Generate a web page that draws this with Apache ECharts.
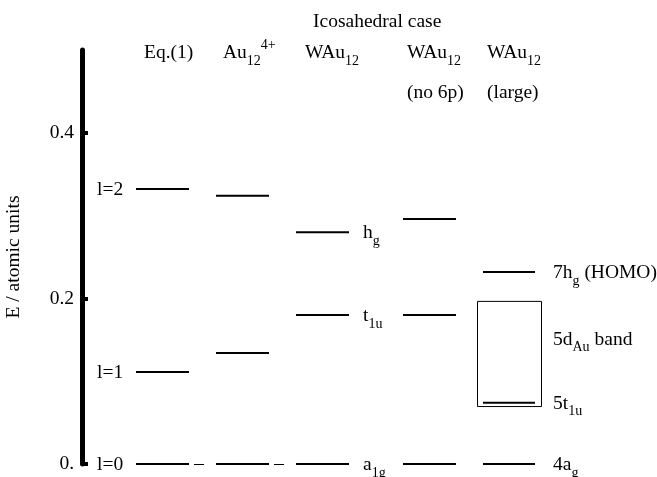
<!DOCTYPE html>
<html><head><meta charset="utf-8">
<script src="https://cdn.jsdelivr.net/npm/echarts@6/dist/echarts.min.js"></script>
<style>html,body{margin:0;padding:0;background:#fff}#c{width:657px;height:477px}</style>
</head><body><div id="c"></div>
<script>
// ---- data ----
const groupTitle = 'Icosahedral case';
const columnHeaders = ['{b|Eq.(1)}', '{b|Au}{s|12}{p|4+}', '{b|WAu}{s|12}', '{b|WAu}{s|12}', '{b|WAu}{s|12}'];
const columnNotes = ['', '', '', '(no 6p)', '(large)'];
const eq1Levels = [0, 0.111, 0.332];
const au12Levels = [0, 0.134, 0.324];
const wau12Levels = [0, 0.180, 0.280];
const wau12No6pLevels = [0, 0.180, 0.296];
const wau12LargeLevels = [0, 0.074, 0.232];
const largeBand5d = [0.070, 0.197];
const eqLevelLabels = ['{b|l=0}', '{b|l=1}', '{b|l=2}'];
const wau12LevelLabels = ['{b|a}{s|1g}', '{b|t}{s|1u}', '{b|h}{s|g}'];
const largeLevelLabels = ['{b|4a}{s|g}', '{b|5t}{s|1u}', '{b|7h}{s|g}{b| (HOMO)}'];
const bandLabel = '{b|5d}{s|Au}{b| band}';
const yTickValues = [0, 0.2, 0.4];
const yTickLabels = ['0.', '0.2', '0.4'];
const yAxisTitle = 'E / atomic units';

// ---- layout (pixel offsets from the axis) ----
const F = 'Liberation Serif';
const FS = 19.5;
const colSpans = [[54, 107], [134, 187], [214, 267], [321, 374], [401, 453]];
const headerX = [144, 223, 305, 407, 487];
const bandSpan = [395, 459];
const dashSpans = [[112, 122], [192, 202]];
const rich = {
  b: {fontFamily: F, fontSize: FS, lineHeight: 30, fill: '#000', verticalAlign: 'middle'},
  s: {fontFamily: F, fontSize: 14, lineHeight: 17, fill: '#000', verticalAlign: 'bottom'},
  p: {fontFamily: F, fontSize: 14, lineHeight: 22, fill: '#000', verticalAlign: 'top'}
};

function levelSeries(levels, span, labels, labelOffset) {
  return {
    type: 'custom', coordinateSystem: 'cartesian2d', clip: false, silent: true,
    data: levels.map(v => [span[0], v]),
    encode: {x: 0, y: 1},
    renderItem: (params, api) => {
      const v = api.value(1);
      const p0 = api.coord([span[0], v]);
      const p1 = api.coord([span[1], v]);
      const children = [{type: 'line', shape: {x1: p0[0], y1: p0[1], x2: p1[0], y2: p1[1]},
        style: {stroke: '#000', lineWidth: 2}}];
      if (labels) {
        const lx = api.coord([labelOffset, v])[0];
        children.push({type: 'text', style: {text: labels[params.dataIndex], x: lx, y: p0[1] + 1,
          align: 'left', verticalAlign: 'middle', rich: rich, font: FS + 'px ' + F}});
      }
      return {type: 'group', children};
    }
  };
}

const series = [
  levelSeries(eq1Levels, colSpans[0], eqLevelLabels, 15),
  levelSeries(au12Levels, colSpans[1]),
  levelSeries(wau12Levels, colSpans[2], wau12LevelLabels, 281),
  levelSeries(wau12No6pLevels, colSpans[3]),
  levelSeries(wau12LargeLevels, colSpans[4], largeLevelLabels, 471),
  {
    type: 'custom', coordinateSystem: 'cartesian2d', clip: false, silent: true,
    data: [largeBand5d],
    renderItem: (params, api) => {
      const lo = api.value(0), hi = api.value(1);
      const a = api.coord([bandSpan[0], hi]);
      const b = api.coord([bandSpan[1], lo]);
      return {type: 'group', children: [
        {type: 'rect', shape: {x: a[0] + 0.5, y: a[1] + 0.5, width: b[0] - a[0], height: b[1] - a[1]},
          style: {fill: 'none', stroke: '#000', lineWidth: 1}},
        {type: 'text', style: {text: bandLabel, x: api.coord([471, hi])[0], y: (a[1] + b[1]) / 2 - 14,
          align: 'left', verticalAlign: 'middle', rich: rich, font: FS + 'px ' + F}}
      ]};
    }
  },
  {
    type: 'custom', coordinateSystem: 'cartesian2d', clip: false, silent: true,
    data: dashSpans.map(s => [s[0], eq1Levels[0]]),
    renderItem: (params, api) => {
      const s = dashSpans[params.dataIndex];
      const v = api.value(1);
      const p0 = api.coord([s[0], v]), p1 = api.coord([s[1], v]);
      return {type: 'line', shape: {x1: p0[0], y1: p0[1] + 0.5, x2: p1[0], y2: p1[1] + 0.5},
        style: {stroke: '#000', lineWidth: 1}};
    }
  }
];

const graphics = [{type: 'text', x: 313, y: 22, style: {text: groupTitle, fill: '#000', align: 'left', verticalAlign: 'middle', font: FS + 'px ' + F}}];
columnHeaders.forEach((h, i) => {
  graphics.push({type: 'text', x: headerX[i], y: 53, style: {text: h, rich: rich, align: 'left', verticalAlign: 'middle', font: FS + 'px ' + F}});
  if (columnNotes[i]) graphics.push({type: 'text', x: headerX[i], y: 93, style: {text: columnNotes[i], fill: '#000', align: 'left', verticalAlign: 'middle', font: FS + 'px ' + F}});
});

const chart = echarts.init(document.getElementById('c'), null, {renderer: 'canvas'});
chart.setOption({
  animation: false,
  backgroundColor: '#fff',
  grid: {left: 82, right: 0, top: 50, bottom: 13, containLabel: false, outerBoundsMode: 'none'},
  xAxis: {type: 'value', min: 0, max: 575, show: false},
  yAxis: {
    type: 'value', min: 0, max: 0.5,
    name: yAxisTitle, nameLocation: 'middle', nameRotate: 90, nameGap: 58,
    nameTextStyle: {fontFamily: F, fontSize: 19.5, color: '#000'},
    axisLine: {show: true, lineStyle: {color: '#000', width: 5}},
    axisTick: {show: true, inside: true, length: 6, lineStyle: {color: '#000', width: 4}, customValues: yTickValues},
    axisLabel: {show: true, margin: 8, fontFamily: F, fontSize: FS, color: '#000', customValues: yTickValues,
      formatter: v => { const i = yTickValues.findIndex(t => Math.abs(t - v) < 1e-9); return i >= 0 ? yTickLabels[i] : ''; }},
    splitLine: {show: false}
  },
  graphic: graphics,
  series: series
});
</script>
</body></html>
